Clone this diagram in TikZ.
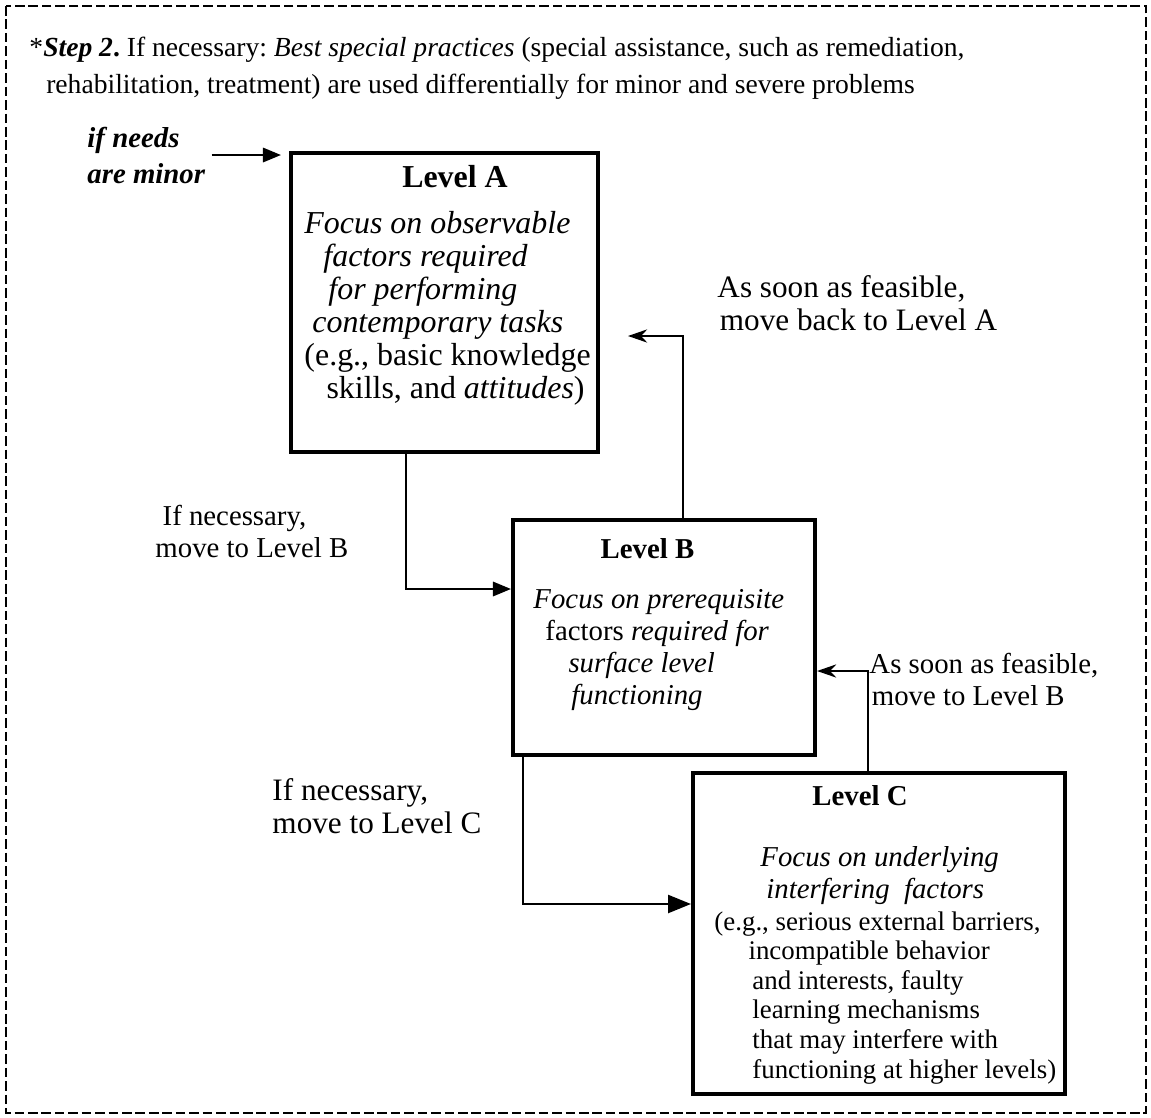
\documentclass[tikz,border=0pt]{standalone}
\usepackage{fontspec}
\setmainfont{Liberation Serif}
\usetikzlibrary{arrows.meta,positioning}

\newcommand{\pxu}{0.41667pt}
\newcommand{\tightskip}{\lineskiplimit-20pt\relax}

\tikzset{
  levelbox/.style={draw, line width=1.7pt, inner sep=0pt},
  flow/.style={line width=0.85pt},
  blk/.style={inner sep=0pt, anchor=base west, align=left},
  tipbig/.style={-{Triangle[length=9.5pt,width=7.5pt]}},
  tipsmall/.style={-{Triangle[length=7.5pt,width=6pt]}},
  tipback/.style={-{Stealth[length=8pt,width=5.5pt]}},
}

\begin{document}
\frenchspacing
\begin{tikzpicture}[x=0.41667pt, y=-0.41667pt]
\useasboundingbox (0,0) rectangle (1151,1118);
\draw[line width=0.85pt, dash pattern=on 4pt off 1.6pt] (6,6) rectangle (1146,1113);

% heading (multi-line blocks sit on the base line of their last line)
\node[blk, font=\fontsize{11.5}{15.4}\selectfont] (head) at (29,93)
  {*\textbf{\textit{Step 2}.} If necessary: \textit{Best special practices} (special assistance, such as remediation,\\
   \hspace*{7pt}rehabilitation, treatment) are used differentially for minor and severe problems};

% the three levels
\node[levelbox, minimum width=307*\pxu, minimum height=299*\pxu] (boxA) at (444.5,302.5) {};
\node[levelbox, minimum width=302*\pxu, minimum height=235*\pxu] (boxB) at (664,637.5) {};
\node[levelbox, minimum width=372*\pxu, minimum height=321*\pxu] (boxC) at (879,933.5) {};

\node[inner sep=0pt, anchor=base, font=\bfseries\fontsize{13.3}{16}\selectfont] (lvlA) at (455,187) {Level A};
\node[blk, font={\fontsize{13.3}{13.75}\selectfont\tightskip}] (txtA) at (304,398)
  {\textit{Focus on observable}\\
   \hspace*{7.9pt}\textit{factors required}\\
   \hspace*{10pt}\textit{for performing}\\
   \hspace*{3.3pt}\textit{contemporary tasks}\\
   (e.g., basic knowledge\\
   \hspace*{9.2pt}skills, and \textit{attitudes})};

\node[inner sep=0pt, anchor=base, font=\bfseries\fontsize{12}{14}\selectfont] (lvlB) at (647.5,558) {Level B};
\node[blk, font={\fontsize{12}{13.33}\selectfont\tightskip}] (txtB) at (533,704)
  {\textit{Focus on prerequisite}\\
   \hspace*{5pt}factors \textit{required for}\\
   \hspace*{14.6pt}\textit{surface level}\\
   \hspace*{15.8pt}\textit{functioning}};

\node[inner sep=0pt, anchor=base, font=\bfseries\fontsize{12}{14}\selectfont] (lvlC) at (860,805) {Level C};
\node[blk, font=\itshape\fontsize{12}{13.3}\selectfont] (txtC) at (760,898)
  {Focus on underlying\\
   \hspace*{2.5pt}interfering~~factors};
\node[blk, font={\fontsize{11.2}{12.3}\selectfont\tightskip}] (notesC) at (714,1078)
  {(e.g., serious external barriers,\\
   \hspace*{14.2pt}incompatible behavior\\
   \hspace*{15.8pt}and interests, faulty\\
   \hspace*{15.8pt}learning mechanisms\\
   \hspace*{15.8pt}that may interfere with\\
   \hspace*{15.8pt}functioning at higher levels)};

% side labels
\node[blk, font=\bfseries\itshape\fontsize{12}{15}\selectfont] (needs) at (87,183) {if needs\\are minor};
\node[blk, font=\fontsize{13}{13.75}\selectfont] (backA) at (717,330) {As soon as feasible,\\\hspace*{1pt}move back to Level A};
\node[blk, font=\fontsize{12}{13.3}\selectfont] (backB) at (869,705) {As soon as feasible,\\\hspace*{1pt}move to Level B};
\node[blk, font=\fontsize{12}{13.3}\selectfont] (toB) at (155,557) {\hspace*{3pt}If necessary,\\move to Level B};
\node[blk, font=\fontsize{13}{13.75}\selectfont] (toC) at (272,833) {If necessary,\\move to Level C};

% connectors
\coordinate (kneeAB) at (406,589);
\coordinate (kneeBC) at (523,904);
\coordinate (kneeBA) at (683,336);
\coordinate (tipBA) at (628,336);
\coordinate (kneeCB) at (868,671);

\draw[flow, tipsmall, shorten <=6*\pxu, shorten >=8*\pxu] (needs.east) -- (needs.east -| boxA.west);
\draw[flow, tipsmall] (boxA.south -| kneeAB) |- (boxB.west |- kneeAB);
\draw[flow, tipbig] (boxB.south -| kneeBC) |- (boxC.west |- kneeBC);
\draw[flow, tipback] (boxB.north -| kneeBA) -- (kneeBA) -- (tipBA);
\draw[flow, tipback] (boxC.north -| kneeCB) |- (boxB.east |- kneeCB);
\end{tikzpicture}
\end{document}
